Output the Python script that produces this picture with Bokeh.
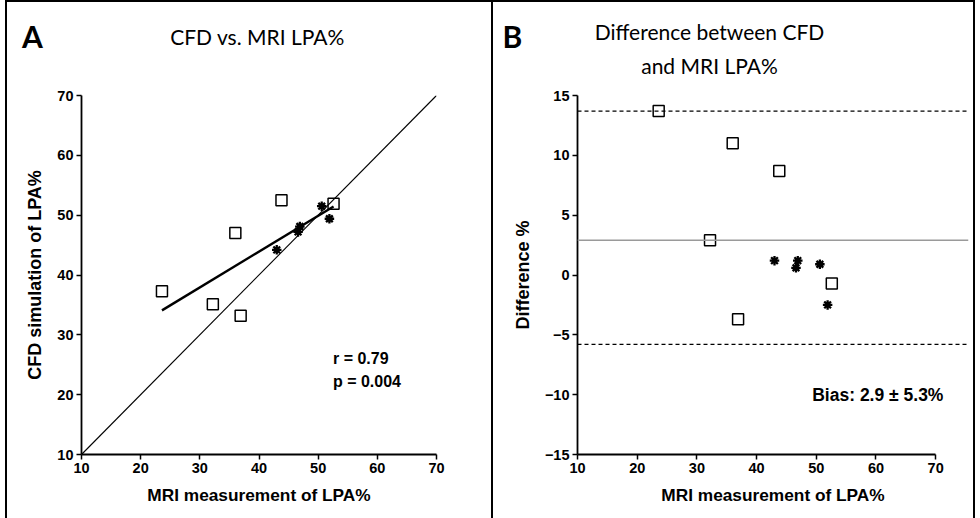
import numpy as np
from bokeh.plotting import figure
from bokeh.layouts import row, column
from bokeh.models import Span, Label, FixedTicker, Spacer
from bokeh.core.properties import value
from bokeh.embed import file_html
from bokeh.resources import INLINE

# LPA% measured by MRI and simulated by CFD, open squares and asterisks are the two patient groups
mri_sq = [23.6, 32.2, 36.0, 36.9, 43.8, 52.6]
cfd_sq = [37.3, 35.1, 47.0, 33.2, 52.5, 51.9]
mri_st = [43.0, 46.6, 46.9, 50.6, 51.9]
cfd_st = [44.2, 47.2, 48.1, 51.5, 49.4]

# Bland-Altman summary lines
bias = 2.9
upper_loa = 13.7
lower_loa = -5.8

xy_ticks = [10, 20, 30, 40, 50, 60, 70]
diff_ticks = [-15, -10, -5, 0, 5, 10, 15]

AX_FONT = "Liberation Sans"
TITLE_FONT = "Lato"
HEAD_H = 80
PANEL_H = 518 - HEAD_H
WA, WB = 488, 482


def style_axes(p):
    p.grid.visible = False
    p.outline_line_color = None
    for ax in p.axis:
        ax.axis_line_width = 1.8
        ax.axis_line_color = "black"
        ax.major_tick_line_width = 1.5
        ax.major_tick_out = 5
        ax.major_tick_in = 0
        ax.minor_tick_line_color = None
        ax.major_label_text_font = AX_FONT
        ax.major_label_text_font_style = "bold"
        ax.major_label_text_font_size = "14.5px"
        ax.major_label_text_color = "black"
        ax.axis_label_text_font = AX_FONT
        ax.axis_label_text_font_style = "bold"
        ax.axis_label_text_color = "black"
        ax.major_label_standoff = 3
    p.xaxis.axis_label_text_font_size = "17.3px"
    p.xaxis.axis_label_standoff = 9
    p.yaxis.axis_label_text_font_size = "18px"
    p.yaxis.axis_label_standoff = 9


def draw_points(p, xs_sq, ys_sq, xs_st, ys_st):
    p.scatter(xs_sq, ys_sq, marker="square", size=11, fill_color=None,
              line_color="black", line_width=1.5)
    p.scatter(xs_st, ys_st, marker="asterisk", size=9.5, line_color="black",
              line_width=2.3)


def header(width):
    h = figure(width=width, height=HEAD_H, x_range=(0, width), y_range=(HEAD_H, 0),
               x_axis_type=None, y_axis_type=None, output_backend="svg",
               toolbar_location=None, min_border=0)
    h.grid.visible = False
    h.outline_line_color = None
    return h


def head_text(h, x, y, txt, size, bold=False):
    h.text(x=[x], y=[y], text=[txt], text_font=value(TITLE_FONT),
           text_font_size=size, text_font_style="bold" if bold else "normal",
           text_align="center", text_baseline="middle", text_color="black")


# ---- Panel A: CFD vs MRI with identity and regression lines ----
ha = header(WA)
head_text(ha, 25, 33, "A", "30px", bold=True)
head_text(ha, 250, 34, "CFD vs. MRI LPA%", "21px")
ha.styles = {"border-top": "2px solid black", "border-left": "2px solid black",
             "border-right": "2px solid black", "box-sizing": "border-box"}

pa = figure(width=WA, height=PANEL_H, x_range=(10, 70), y_range=(10, 70),
            output_backend="svg", toolbar_location=None,
            min_border_left=74, min_border_right=WA - 74 - 355,
            min_border_top=15, min_border_bottom=64)
pa.xaxis.axis_label = "MRI measurement of LPA%"
pa.yaxis.axis_label = "CFD simulation of LPA%"
pa.xaxis.ticker = FixedTicker(ticks=xy_ticks)
pa.yaxis.ticker = FixedTicker(ticks=xy_ticks)
style_axes(pa)

pa.line([xy_ticks[0], xy_ticks[-1]], [xy_ticks[0], xy_ticks[-1]],
        line_color="black", line_width=1.1)

all_mri = np.array(mri_sq + mri_st)
all_cfd = np.array(cfd_sq + cfd_st)
slope, intercept = np.polyfit(all_mri, all_cfd, 1)
fit_x = np.array([all_mri.min(), all_mri.max()])
pa.line(fit_x, slope * fit_x + intercept, line_color="black", line_width=2.4)

draw_points(pa, mri_sq, cfd_sq, mri_st, cfd_st)

for txt, yy in (("r = 0.79", 26.0), ("p = 0.004", 22.2)):
    pa.add_layout(Label(x=52.5, y=yy, text=txt, text_font=AX_FONT,
                        text_font_style="bold", text_font_size="16px",
                        text_baseline="middle", text_color="black"))
pa.styles = {"border-left": "2px solid black", "border-right": "2px solid black",
             "box-sizing": "border-box"}

# ---- Panel B: difference between CFD and MRI ----
diff_sq = [c - m for c, m in zip(cfd_sq, mri_sq)]
diff_st = [c - m for c, m in zip(cfd_st, mri_st)]

hb = header(WB)
head_text(hb, 19, 33, "B", "30px", bold=True)
head_text(hb, 216, 29, "Difference between CFD", "21px")
head_text(hb, 216, 63, "and MRI LPA%", "21px")
hb.styles = {"border-top": "2px solid black", "border-right": "2px solid black",
             "box-sizing": "border-box"}

# the frame runs past x = 70 so the reference lines reach the panel edge
pb = figure(width=WB, height=PANEL_H, x_range=(10, 75.5), y_range=(-15, 15),
            output_backend="svg", toolbar_location=None,
            min_border_left=84, min_border_right=WB - 84 - 391,
            min_border_top=15, min_border_bottom=64)
pb.xaxis.axis_label = "MRI measurement of LPA%"
pb.yaxis.axis_label = "Difference %"
pb.xaxis.ticker = FixedTicker(ticks=xy_ticks)
pb.yaxis.ticker = FixedTicker(ticks=diff_ticks)
pb.xaxis.bounds = (10, 70)
style_axes(pb)

pb.add_layout(Span(location=bias, dimension="width", line_color="#9a9a9a",
                   line_width=1.4))
for loa in (upper_loa, lower_loa):
    pb.add_layout(Span(location=loa, dimension="width", line_color="black",
                       line_width=1.2, line_dash="4 3"))

draw_points(pb, mri_sq, diff_sq, mri_st, diff_st)

pb.add_layout(Label(x=71.3, y=-10.0, text="Bias: 2.9 \u00b1 5.3%", text_font=AX_FONT,
                    text_font_style="bold", text_font_size="17.5px",
                    text_align="right", text_baseline="middle", text_color="black"))
pb.styles = {"border-right": "2px solid black", "box-sizing": "border-box"}

layout = column(row(Spacer(width=5, height=HEAD_H), ha, hb),
                row(Spacer(width=5, height=PANEL_H), pa, pb))
open("out.html", "w").write(file_html(layout, INLINE))
